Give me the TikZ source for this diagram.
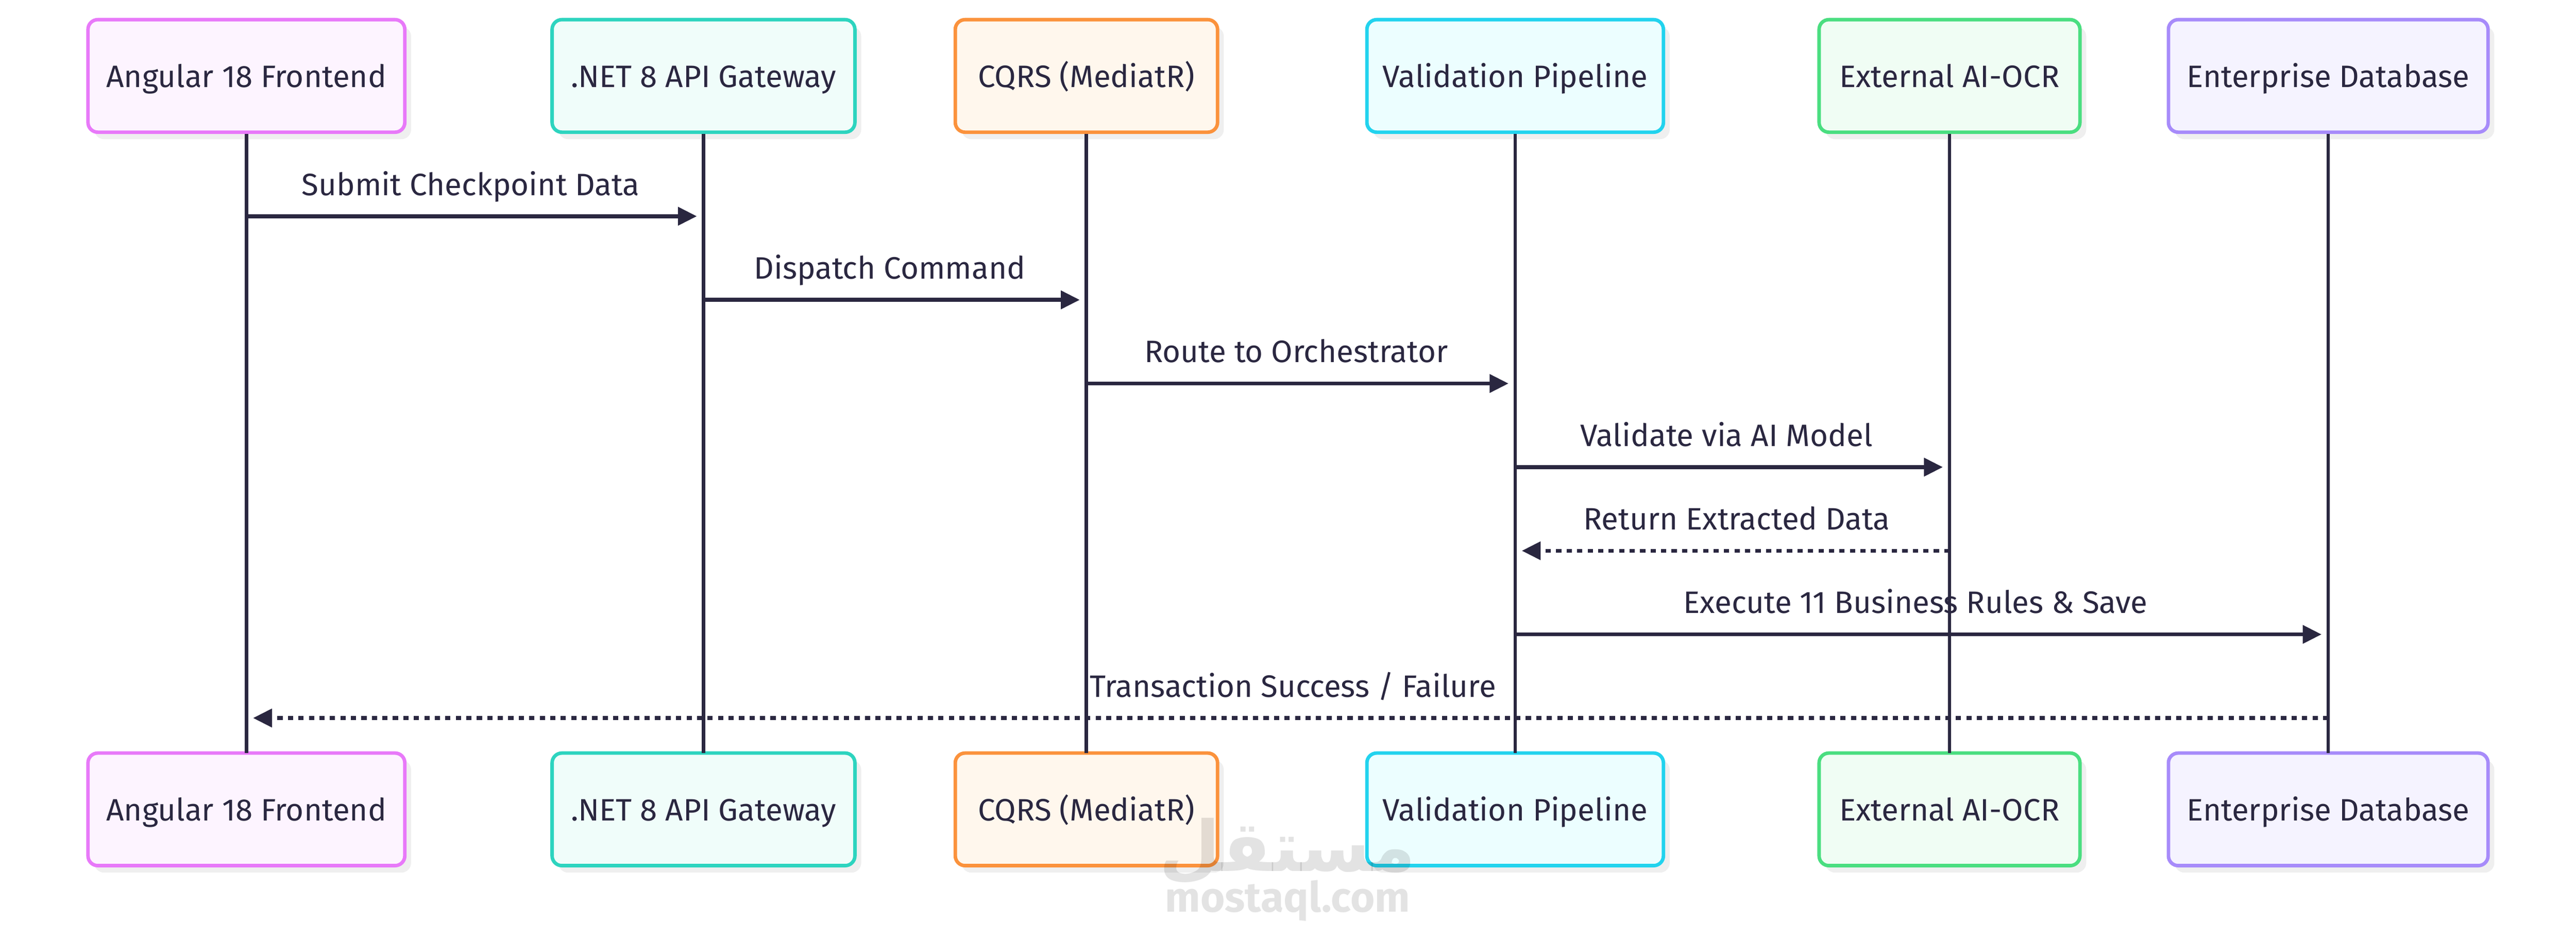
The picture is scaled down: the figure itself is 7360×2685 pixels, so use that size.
\documentclass[tikz,border=0pt]{standalone}
\usepackage{fontspec}
\setmainfont{Fira Sans}
\newfontfamily\arabicfont[Script=Arabic]{DejaVu Sans}
\TeXXeTstate=1
\usetikzlibrary{arrows.meta,shadows}

\definecolor{ink}{HTML}{2A2740}
\definecolor{shade}{HTML}{EFEFEF}
\definecolor{pinkline}{HTML}{E879F9}
\definecolor{pinkfill}{HTML}{FDF4FF}
\definecolor{tealline}{HTML}{2DD4BF}
\definecolor{tealfill}{HTML}{F0FDFA}
\definecolor{orangeline}{HTML}{FB923C}
\definecolor{orangefill}{HTML}{FFF7ED}
\definecolor{cyanline}{HTML}{22D3EE}
\definecolor{cyanfill}{HTML}{ECFEFF}
\definecolor{greenline}{HTML}{4ADE80}
\definecolor{greenfill}{HTML}{F0FDF4}
\definecolor{violetline}{HTML}{A78BFA}
\definecolor{violetfill}{HTML}{F5F3FF}

\tikzset{
    actor/.style={draw=#1line, fill=#1fill, line width=0.05cm, rounded corners=0.14cm,
        minimum height=1.61cm, inner sep=0pt, text=ink,
        font=\fontsize{12.6}{15}\selectfont, text depth=0.11cm, text height=0.43cm,
        drop shadow={shadow xshift=0.09cm, shadow yshift=-0.1cm, fill=shade, opacity=1}},
    lifeline/.style={draw=ink, line width=0.05cm, shorten >=-0.025cm},
    msg/.style={draw=ink, line width=0.055cm, -{Triangle[length=0.27cm, width=0.255cm]}, shorten >=0.095cm},
    reply/.style={msg, dash pattern=on 0.075cm off 0.075cm},
    msglabel/.style={anchor=base, inner sep=0pt, text=ink, font=\fontsize{12.6}{15}\selectfont},
    stamp/.style={anchor=base, inner sep=0pt, text=black, text opacity=0.11}
}

\begin{document}
\begin{tikzpicture}[x=0.005cm, y=-0.005cm]
    \useasboundingbox (0,0) rectangle (7360,2685);

    \node[actor=pink, minimum width=4.53cm] (fe) at (704,217) {Angular 18 Frontend};
    \node[actor=teal, minimum width=4.33cm] (gw) at (2010,217) {.NET 8 API Gateway};
    \node[actor=orange, minimum width=3.75cm] (cq) at (3104,217) {CQRS (MediatR)};
    \node[actor=cyan, minimum width=4.24cm] (vp) at (4329,217) {Validation Pipeline};
    \node[actor=green, minimum width=3.73cm] (ai) at (5570,217) {External AI-OCR};
    \node[actor=violet, minimum width=4.57cm] (db) at (6652,217) {Enterprise Database};

    \node[actor=pink, minimum width=4.53cm] (feb) at (704,2313) {Angular 18 Frontend};
    \node[actor=teal, minimum width=4.33cm] (gwb) at (2010,2313) {.NET 8 API Gateway};
    \node[actor=orange, minimum width=3.75cm] (cqb) at (3104,2313) {CQRS (MediatR)};
    \node[actor=cyan, minimum width=4.24cm] (vpb) at (4329,2313) {Validation Pipeline};
    \node[actor=green, minimum width=3.73cm] (aib) at (5570,2313) {External AI-OCR};
    \node[actor=violet, minimum width=4.57cm] (dbb) at (6652,2313) {Enterprise Database};

    \draw[lifeline] (fe.south) -- (feb.north);
    \draw[lifeline] (gw.south) -- (gwb.north);
    \draw[lifeline] (cq.south) -- (cqb.north);
    \draw[lifeline] (vp.south) -- (vpb.north);
    \draw[lifeline] (ai.south) -- (aib.north);
    \draw[lifeline] (db.south) -- (dbb.north);

    \draw[msg] (fe |- 0,618) -- (gw |- 0,618);
    \draw[msg] (gw |- 0,857) -- (cq |- 0,857);
    \draw[msg] (cq |- 0,1096) -- (vp |- 0,1096);
    \draw[msg] (vp |- 0,1335) -- (ai |- 0,1335);
    \draw[reply] (ai |- 0,1574) -- (vp |- 0,1574);
    \draw[msg] (vp |- 0,1813) -- (db |- 0,1813);
    \draw[reply] (db |- 0,2052) -- (fe |- 0,2052);

    \node[msglabel] (l1) at (1345,558) {Submit Checkpoint Data};
    \node[msglabel] (l2) at (2542,797) {Dispatch Command};
    \node[msglabel] (l3) at (3703,1036) {Route to Orchestrator};
    \node[msglabel] (l4) at (4933,1275) {Validate via AI Model};
    \node[msglabel] (l5) at (4962,1514) {Return Extracted Data};
    \node[msglabel] (l6) at (5473,1753) {Execute 11 Business Rules \& Save};
    \node[msglabel] (l7) at (3694,1992) {Transaction Success / Failure};

    \node[stamp, font=\bfseries\fontsize{28.5}{32}\arabicfont] (wm) at (3679,2490) {\beginR مستقل\endR};
    \node[stamp, font=\bfseries\fontsize{17}{20}\selectfont] (wt) at (3679,2606) {mostaql.com};
\end{tikzpicture}
\end{document}
